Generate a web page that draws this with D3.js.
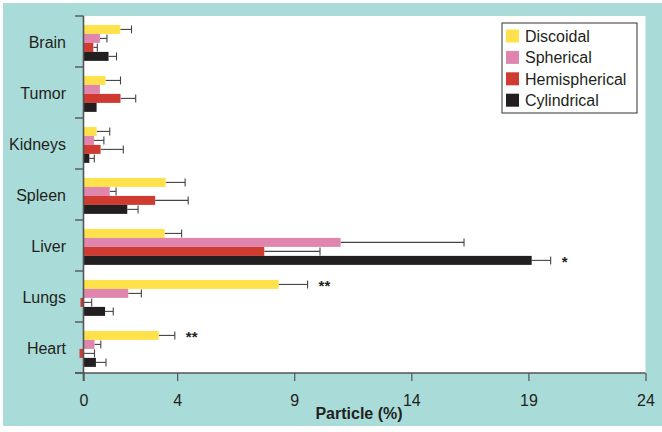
<!DOCTYPE html>
<html><head><meta charset="utf-8">
<script src="https://cdn.jsdelivr.net/npm/d3@7/dist/d3.min.js"></script>
<style>body{margin:0;background:#fff}svg{display:block;font-family:"Liberation Sans",Arial,sans-serif}</style>
</head><body><svg id="c" width="662" height="432"></svg>
<script>
const categories = ["Brain","Tumor","Kidneys","Spleen","Liver","Lungs","Heart"];
const series = ["Discoidal","Spherical","Hemispherical","Cylindrical"];
const colors = ["#FFE14B","#E086AE","#CF3A31","#231F20"];
// mean values per series (rows follow categories)
const discoidal     = [1.57, 0.94, 0.56, 3.51, 3.46, 8.33, 3.21];
const spherical    = [0.70, 0.70, 0.45, 1.12, 10.98, 1.91, 0.47];
const hemispherical = [0.42, 1.58, 0.73, 3.06, 7.72, -0.13, -0.17];
const cylindrical  = [1.07, 0.56, 0.25, 1.87, 19.14, 0.92, 0.53];
// upper end of error bars (null = none)
const discoidalErr     = [2.05, 1.58, 1.12, 4.34, 4.19, 9.57, 3.90];
const sphericalErr     = [1.00, null, 0.87, 1.39, 16.25, 2.47, 0.74];
const hemisphericalErr = [0.59, 2.23, 1.70, 4.47, 10.10, 0.35, 0.47];
const cylindricalErr   = [1.41, null, 0.46, 2.33, 19.95, 1.27, 0.96];
const xTicks = [0, 4, 9, 14, 19, 24];
const annotations = [
  {cat:"Liver", s:"Cylindrical", text:"*"},
  {cat:"Lungs", s:"Discoidal", text:"**"},
  {cat:"Heart", s:"Discoidal", text:"**"}
];
const values = [discoidal, spherical, hemispherical, cylindrical];
const errs = [discoidalErr, sphericalErr, hemisphericalErr, cylindricalErr];

(function(){
const svg = d3.select("#c");
const ink = "#231F20", axisCol = "#555";
svg.append("rect").attr("x",3).attr("y",3).attr("width",659).attr("height",423).attr("fill","#A9DCD8");

const pLeft = 83.5, pRight = 645.5, pTop = 16, pBottom = 373;
svg.append("rect").attr("x",pLeft).attr("y",pTop).attr("width",pRight-pLeft).attr("height",pBottom-pTop).attr("fill","#fff");

const x = d3.scaleLinear().domain([0,24]).range([pLeft,pRight]);
const y = d3.scaleBand().domain(categories).range([pTop,pBottom]).padding(0);
const bw = y.bandwidth();
const ys = d3.scaleBand().domain(series).range([bw*0.175, bw*0.88]).padding(0);

const rows = [];
categories.forEach((c,i)=>series.forEach((s,j)=>rows.push({c, s, j, v:values[j][i], e:errs[j][i]})));

const g = svg.append("g");
rows.filter(d=>d.e!=null).forEach(d=>{
  const yc = y(d.c)+ys(d.s)+ys.bandwidth()/2;
  const x0 = x(Math.max(d.v,0)), x1 = x(d.e);
  g.append("line").attr("x1",x0).attr("x2",x1).attr("y1",yc).attr("y2",yc).attr("stroke","#444").attr("stroke-width",1.1);
  g.append("line").attr("x1",x1).attr("x2",x1).attr("y1",yc-4).attr("y2",yc+4).attr("stroke","#444").attr("stroke-width",1.1);
});
g.selectAll("rect.bar").data(rows).join("rect").attr("class","bar")
  .attr("x",d=>x(Math.min(0,d.v))).attr("width",d=>Math.abs(x(d.v)-x(0)))
  .attr("y",d=>y(d.c)+ys(d.s)).attr("height",ys.bandwidth())
  .attr("fill",d=>colors[d.j]);

annotations.forEach(a=>{
  const i = categories.indexOf(a.cat), j = series.indexOf(a.s);
  const yc = y(a.cat)+ys(a.s)+ys.bandwidth()/2;
  svg.append("text").attr("x",x(errs[j][i])+11).attr("y",yc+7).attr("font-size",15).attr("font-weight","bold").attr("fill",ink).text(a.text);
});

svg.append("line").attr("x1",75).attr("x2",pRight).attr("y1",pBottom).attr("y2",pBottom).attr("stroke",axisCol).attr("stroke-width",1.6);
svg.append("line").attr("x1",pLeft).attr("x2",pLeft).attr("y1",pTop).attr("y2",381).attr("stroke",axisCol).attr("stroke-width",1.6);
const bounds = categories.map(c=>y(c)).concat([pBottom]);
svg.selectAll("line.yt").data(bounds).join("line").attr("class","yt")
  .attr("x1",75).attr("x2",pLeft).attr("y1",d=>d).attr("y2",d=>d).attr("stroke",axisCol).attr("stroke-width",1.4);
svg.selectAll("text.cat").data(categories).join("text").attr("class","cat")
  .attr("x",66).attr("y",d=>y(d)+bw/2+6).attr("text-anchor","end").attr("font-size",16).attr("fill",ink).text(d=>d);

const xa = svg.append("g").attr("transform",`translate(0,${pBottom})`)
  .call(d3.axisBottom(x).tickValues(xTicks).tickSize(8).tickPadding(14).tickFormat(d3.format("d")));
xa.select(".domain").remove();
xa.selectAll(".tick line").attr("stroke",axisCol).attr("stroke-width",1.2);
xa.selectAll(".tick text").attr("font-size",16).attr("fill",ink).attr("font-family","Liberation Sans, Arial, sans-serif");
svg.append("text").attr("x",359).attr("y",419).attr("text-anchor","middle").attr("font-size",16).attr("font-weight","bold").attr("fill",ink).text("Particle (%)");

const lg = svg.append("g");
lg.append("rect").attr("x",502).attr("y",23).attr("width",135).attr("height",90).attr("fill","#fff").attr("stroke","#333").attr("stroke-width",1);
series.forEach((s,j)=>{
  const cy = 36 + j*21.4;
  lg.append("rect").attr("x",506).attr("y",cy-6.5).attr("width",13).attr("height",13).attr("fill",colors[j]);
  lg.append("text").attr("x",525).attr("y",cy+6).attr("font-size",16).attr("fill",ink).text(s);
});
})();
</script></body></html>
